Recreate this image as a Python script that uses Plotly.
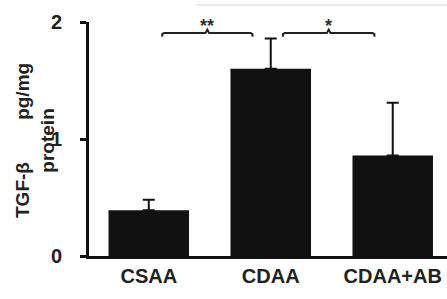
import plotly.graph_objects as go

categories = ["CSAA", "CDAA", "CDAA+AB"]
values = [0.39, 1.60, 0.86]
errors = [0.09, 0.26, 0.45]
y_ticks = [0, 1, 2]
sig_labels = ["**", "*"]

FONT = "Arial, Liberation Sans, sans-serif"

fig = go.Figure()
fig.add_trace(go.Bar(
    x=[0, 1, 2], y=values, width=0.66,
    marker=dict(color="#111111", line=dict(width=0)),
    error_y=dict(type="data", array=errors, symmetric=False,
                 arrayminus=[0, 0, 0], color="#111111", thickness=2, width=6),
))

# significance brackets (data coordinates)
def bracket(x0, x1, y):
    xm = (x0 + x1) / 2
    e = 0.015
    d = 0.03
    return (f"M {x0},{y-d} L {x0},{y-0.008} L {x0+e},{y} L {xm-e},{y} L {xm},{y+d} "
            f"L {xm+e},{y} L {x1-e},{y} L {x1},{y-0.008} L {x1},{y-d}")

shapes = [
    dict(type="path", xref="x", yref="y", path=bracket(0.11, 0.85, 1.905),
         line=dict(color="#222", width=2)),
    dict(type="path", xref="x", yref="y", path=bracket(1.10, 1.85, 1.905),
         line=dict(color="#222", width=2)),
    # faint scan line at top
    dict(type="line", xref="paper", yref="paper", x0=0.3, x1=1.0,
         y0=1.073, y1=1.073, line=dict(color="#dfe1ee", width=1.5)),
]

annotations = [
    dict(x=0.48, y=1.97, xref="x", yref="y", text=f"<b>{sig_labels[0]}</b>", showarrow=False,
         font=dict(family=FONT, size=18, color="#333"), yanchor="middle"),
    dict(x=1.475, y=1.97, xref="x", yref="y", text=f"<b>{sig_labels[1]}</b>", showarrow=False,
         font=dict(family=FONT, size=18, color="#333"), yanchor="middle"),
    dict(x=(35 - 89) / 358, y=(256 - 141) / 234, xref="paper", yref="paper",
         text="<b>TGF-β" + "\u00a0" * 8 + "pg/mg<br>protein</b>", textangle=-90,
         showarrow=False, font=dict(family=FONT, size=19, color="#222"),
         xanchor="center", yanchor="middle", align="center"),
]

fig.update_layout(
    width=447, height=299,
    margin=dict(l=89, r=0, t=22, b=43, autoexpand=False),
    paper_bgcolor="white", plot_bgcolor="white",
    showlegend=False,
    shapes=shapes, annotations=annotations,
    font=dict(family=FONT, color="#222"),
)
fig.update_xaxes(
    range=[-0.49, 2.445], tickmode="array", tickvals=[0, 1, 2],
    ticktext=[f"<b>{c}</b>" for c in categories],
    tickfont=dict(family=FONT, size=20, color="#222"),
    showline=True, linecolor="#111", linewidth=3, ticks="",
    showgrid=False, zeroline=False, automargin=False,
)
fig.update_yaxes(
    range=[0, 2], tickmode="array", tickvals=y_ticks,
    ticktext=[f"<b>{t}</b>" for t in y_ticks],
    tickfont=dict(family=FONT, size=20, color="#222"),
    showline=True, linecolor="#111", linewidth=3,
    ticks="outside", ticklen=6, tickwidth=3, tickcolor="#111",
    ticklabelstandoff=14,
    showgrid=False, zeroline=False, automargin=False,
)

fig.write_html("out.html", config={"displayModeBar": False},
               post_script="document.body.style.margin='0';document.body.style.overflow='hidden';")
